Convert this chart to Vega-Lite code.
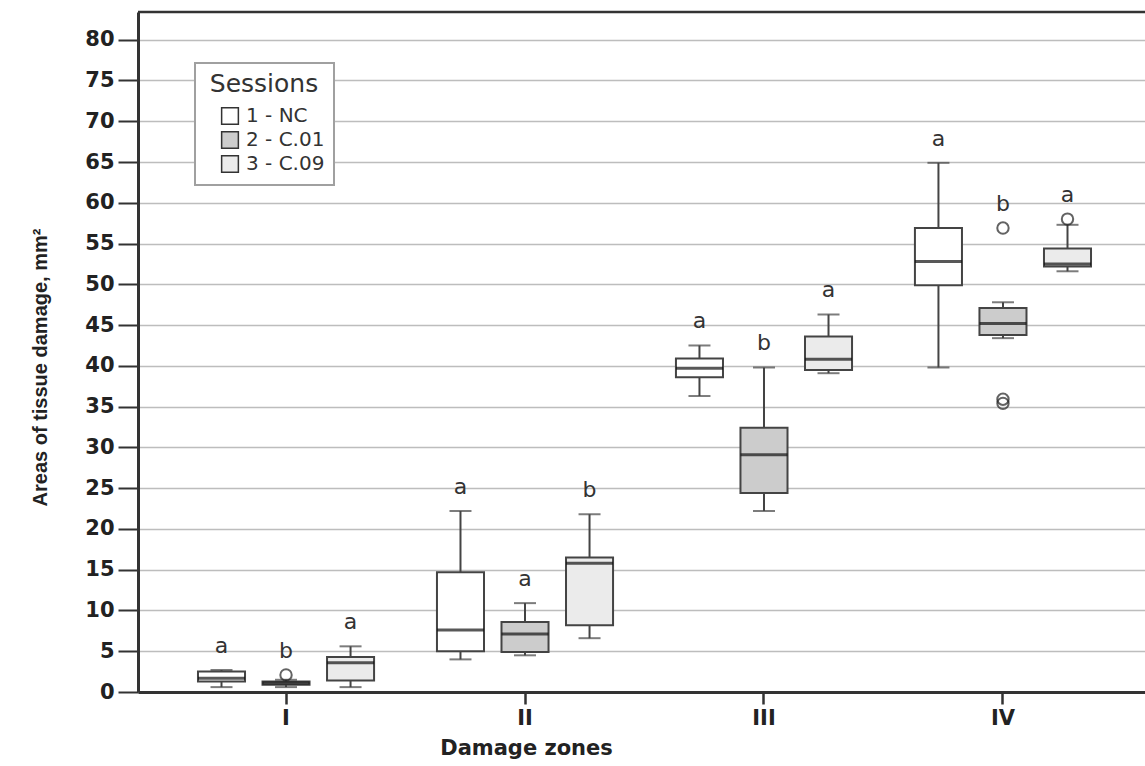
{
  "$schema": "https://vega.github.io/schema/vega-lite/v6.json",
  "width": 1007,
  "height": 680,
  "autosize": {"type": "none"},
  "padding": {"left": 138, "top": 12, "right": 0, "bottom": 74},
  "background": "white",
  "config": {
    "view": {"stroke": null},
    "font": "DejaVu Sans",
    "legend": {
      "orient": "none",
      "legendX": 57,
      "legendY": 51,
      "padding": 9,
      "strokeColor": "#a0a0a0",
      "strokeWidth": 2,
      "fillColor": "white",
      "titleFont": "DejaVu Sans",
      "titleFontSize": 25,
      "titleFontWeight": "normal",
      "titleColor": "#333333",
      "titleAnchor": "middle",
      "titlePadding": 9,
      "labelFont": "DejaVu Sans",
      "labelFontSize": 20,
      "labelColor": "#333333",
      "symbolType": "square",
      "symbolSize": 280,
      "symbolStrokeColor": "#333333",
      "symbolStrokeWidth": 1.5,
      "symbolOffset": 16,
      "labelOffset": 6,
      "rowPadding": 0
    }
  },
  "datasets": {
    "boxes": [
      {"zone": "I", "session": "1 - NC", "lower": 0.6, "q1": 1.3, "median": 1.7, "q3": 2.5, "upper": 2.7, "top": 2.7, "letter": "a"},
      {"zone": "I", "session": "2 - C.01", "lower": 0.6, "q1": 0.9, "median": 1.1, "q3": 1.3, "upper": 1.5, "top": 2.1, "letter": "b"},
      {"zone": "I", "session": "3 - C.09", "lower": 0.6, "q1": 1.4, "median": 3.6, "q3": 4.3, "upper": 5.6, "top": 5.6, "letter": "a"},
      {"zone": "II", "session": "1 - NC", "lower": 4.0, "q1": 5.0, "median": 7.6, "q3": 14.7, "upper": 22.2, "top": 22.2, "letter": "a"},
      {"zone": "II", "session": "2 - C.01", "lower": 4.5, "q1": 4.9, "median": 7.1, "q3": 8.6, "upper": 10.9, "top": 10.9, "letter": "a"},
      {"zone": "II", "session": "3 - C.09", "lower": 6.6, "q1": 8.2, "median": 15.8, "q3": 16.5, "upper": 21.8, "top": 21.8, "letter": "b"},
      {"zone": "III", "session": "1 - NC", "lower": 36.3, "q1": 38.6, "median": 39.7, "q3": 40.9, "upper": 42.5, "top": 42.5, "letter": "a"},
      {"zone": "III", "session": "2 - C.01", "lower": 22.2, "q1": 24.4, "median": 29.1, "q3": 32.4, "upper": 39.8, "top": 39.8, "letter": "b"},
      {"zone": "III", "session": "3 - C.09", "lower": 39.1, "q1": 39.5, "median": 40.8, "q3": 43.6, "upper": 46.3, "top": 46.3, "letter": "a"},
      {"zone": "IV", "session": "1 - NC", "lower": 39.8, "q1": 49.9, "median": 52.8, "q3": 56.9, "upper": 64.9, "top": 64.9, "letter": "a"},
      {"zone": "IV", "session": "2 - C.01", "lower": 43.4, "q1": 43.8, "median": 45.2, "q3": 47.1, "upper": 47.8, "top": 56.9, "letter": "b"},
      {"zone": "IV", "session": "3 - C.09", "lower": 51.6, "q1": 52.2, "median": 52.5, "q3": 54.4, "upper": 57.3, "top": 58.0, "letter": "a"}
    ],
    "outliers": [
      {"zone": "I", "session": "2 - C.01", "value": 2.1},
      {"zone": "IV", "session": "2 - C.01", "value": 56.9},
      {"zone": "IV", "session": "2 - C.01", "value": 35.9},
      {"zone": "IV", "session": "2 - C.01", "value": 35.4},
      {"zone": "IV", "session": "3 - C.09", "value": 58.0}
    ]
  },
  "encoding": {
    "x": {
      "field": "zone",
      "type": "nominal",
      "scale": {"domain": ["I", "II", "III", "IV"], "range": [0, 1013], "paddingInner": 0.19, "paddingOuter": 0.2144},
      "axis": {
        "title": "Damage zones",
        "labelAngle": 0,
        "labelFont": "DejaVu Sans",
        "labelFontSize": 21,
        "labelFontWeight": "bold",
        "labelColor": "#222222",
        "labelPadding": 3,
        "tickSize": 12,
        "tickWidth": 2.5,
        "tickColor": "#333333",
        "domainColor": "#333333",
        "domainWidth": 3,
        "grid": false,
        "titleFont": "DejaVu Sans",
        "titleFontSize": 21,
        "titleFontWeight": "bold",
        "titleColor": "#222222",
        "titleX": 388,
        "titleY": 56,
        "titleBaseline": "middle",
        "titleAlign": "center"
      }
    },
    "xOffset": {
      "field": "session",
      "type": "nominal",
      "scale": {"domain": ["1 - NC", "2 - C.01", "3 - C.09"], "paddingInner": 0.271, "paddingOuter": 0.1355}
    }
  },
  "layer": [
    {
      "data": {"name": "boxes"},
      "mark": {"type": "rule", "color": "#444444", "strokeWidth": 2},
      "encoding": {
        "y": {
          "field": "lower",
          "type": "quantitative",
          "scale": {"domain": [0, 83.4], "nice": false, "zero": true},
          "axis": {
            "title": "Areas of tissue damage, mm²",
            "values": [0, 5, 10, 15, 20, 25, 30, 35, 40, 45, 50, 55, 60, 65, 70, 75, 80],
            "grid": true,
            "gridColor": "#bdbdbd",
            "gridWidth": 1.5,
            "labelFont": "DejaVu Sans",
            "labelFontSize": 21,
            "labelFontWeight": "bold",
            "labelColor": "#222222",
            "labelPadding": 4,
            "tickSize": 20,
            "tickWidth": 2,
            "tickColor": "#333333",
            "domainColor": "#333333",
            "domainWidth": 3,
            "titleFont": "Liberation Sans",
            "titleFontSize": 20,
            "titleFontWeight": "bold",
            "titleColor": "#222222",
            "titleX": -98,
            "titleY": 355,
            "titleAngle": -90,
            "titleAlign": "center",
            "titleBaseline": "middle"
          }
        },
        "y2": {"field": "upper"}
      }
    },
    {
      "data": {"name": "boxes"},
      "mark": {"type": "tick", "color": "#444444", "thickness": 2, "size": 22, "orient": "horizontal"},
      "encoding": {"y": {"field": "lower", "type": "quantitative"}}
    },
    {
      "data": {"name": "boxes"},
      "mark": {"type": "tick", "color": "#444444", "thickness": 2, "size": 22, "orient": "horizontal"},
      "encoding": {"y": {"field": "upper", "type": "quantitative"}}
    },
    {
      "data": {"name": "boxes"},
      "mark": {"type": "bar", "stroke": "#444444", "strokeWidth": 2, "opacity": 1},
      "encoding": {
        "y": {"field": "q1", "type": "quantitative"},
        "y2": {"field": "q3"},
        "color": {
          "field": "session",
          "type": "nominal",
          "scale": {"domain": ["1 - NC", "2 - C.01", "3 - C.09"], "range": ["#ffffff", "#cccccc", "#ebebeb"]},
          "legend": {"title": "Sessions"}
        }
      }
    },
    {
      "data": {"name": "boxes"},
      "mark": {"type": "tick", "color": "#111111", "thickness": 3, "size": 47, "orient": "horizontal"},
      "encoding": {"y": {"field": "median", "type": "quantitative"}}
    },
    {
      "data": {"name": "outliers"},
      "mark": {"type": "point", "shape": "circle", "filled": false, "size": 130, "stroke": "#222222", "strokeWidth": 2},
      "encoding": {"y": {"field": "value", "type": "quantitative"}}
    },
    {
      "data": {"name": "boxes"},
      "mark": {"type": "text", "font": "DejaVu Sans", "fontSize": 22, "color": "#333333", "baseline": "middle", "dy": -24},
      "encoding": {
        "y": {"field": "top", "type": "quantitative"},
        "text": {"field": "letter"}
      }
    },
    {
      "data": {"values": [{"frame": 83.4}]},
      "mark": {"type": "rule", "color": "#333333", "strokeWidth": 2.5},
      "encoding": {"y": {"field": "frame", "type": "quantitative"}, "x": null, "xOffset": null}
    }
  ]
}
